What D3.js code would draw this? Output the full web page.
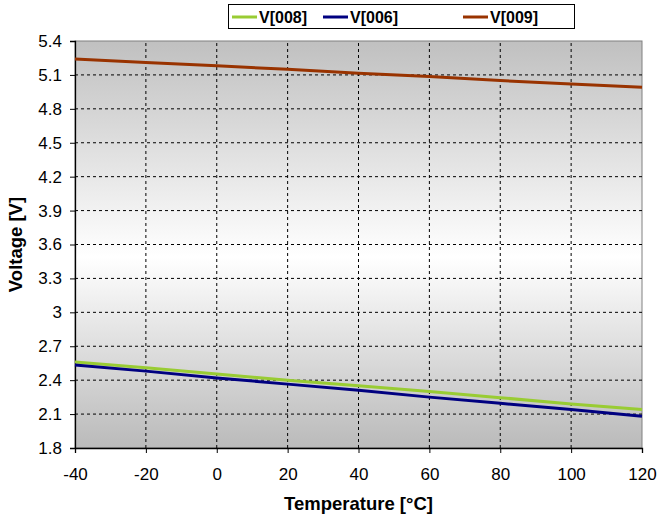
<!DOCTYPE html>
<html><head><meta charset="utf-8">
<script src="https://cdn.jsdelivr.net/npm/d3@7"></script>
<style>body{margin:0;background:#fff;} text{font-family:"Liberation Sans",Arial,sans-serif;}</style>
</head><body><svg id="c" width="658" height="517"></svg>
<script>
const temps = [-40, -20, 0, 20, 40, 60, 80, 100, 120];
const v008 = [2.56, 2.51, 2.455, 2.40, 2.35, 2.30, 2.245, 2.19, 2.14];
const v006 = [2.535, 2.48, 2.42, 2.365, 2.31, 2.25, 2.195, 2.14, 2.08];
const v009 = [5.24, 5.21, 5.18, 5.15, 5.115, 5.085, 5.05, 5.02, 4.99];
const seriesNames = ["V[008]", "V[006]", "V[009]"];
const seriesColors = ["#99cc33", "#000080", "#993300"];
const xTicks = [-40, -20, 0, 20, 40, 60, 80, 100, 120];
const yTicks = [1.8, 2.1, 2.4, 2.7, 3, 3.3, 3.6, 3.9, 4.2, 4.5, 4.8, 5.1, 5.4];

const svg = d3.select("#c");
const m = {l: 75, r: 16, t: 41, b: 69};
const W = 658, H = 517;
const x = d3.scaleLinear().domain([-40, 120]).range([m.l, W - m.r]);
const y = d3.scaleLinear().domain([1.8, 5.4]).range([H - m.b, m.t]);

const defs = svg.append("defs");
const g = defs.append("linearGradient").attr("id", "bg").attr("x1", 0).attr("y1", 0).attr("x2", 0).attr("y2", 1);
g.append("stop").attr("offset", "0%").attr("stop-color", "#c0c0c0");
g.append("stop").attr("offset", "53%").attr("stop-color", "#ffffff");
g.append("stop").attr("offset", "100%").attr("stop-color", "#bababa");

svg.append("rect").attr("x", x(-40)).attr("y", y(5.4)).attr("width", x(120) - x(-40)).attr("height", y(1.8) - y(5.4))
  .attr("fill", "url(#bg)").attr("stroke", "#808080").attr("stroke-width", 1);

// grid
svg.append("g").selectAll("line").data(yTicks.filter(d => d > 1.8 && d < 5.4)).join("line")
  .attr("x1", x(-40)).attr("x2", x(120)).attr("y1", d => y(d)).attr("y2", d => y(d))
  .attr("stroke", "#000").attr("stroke-dasharray", "3,3").attr("stroke-width", 1);
svg.append("g").selectAll("line").data(xTicks.filter(d => d > -40 && d < 120)).join("line")
  .attr("y1", y(1.8)).attr("y2", y(5.4)).attr("x1", d => x(d)).attr("x2", d => x(d))
  .attr("stroke", "#000").attr("stroke-dasharray", "3,3").attr("stroke-width", 1);

// axes
const xAxis = svg.append("g").attr("transform", `translate(0,${y(1.8)})`)
  .call(d3.axisBottom(x).tickValues(xTicks).tickSize(5).tickPadding(15).tickFormat(d => String(d)));
const yAxis = svg.append("g").attr("transform", `translate(${x(-40)},0)`)
  .call(d3.axisLeft(y).tickValues(yTicks).tickSize(5).tickPadding(8).tickFormat(d => String(+d.toFixed(1))));
[xAxis, yAxis].forEach(a => {
  a.select(".domain").attr("stroke", "#000").attr("stroke-width", 1.3);
  a.selectAll(".tick line").attr("stroke", "#000");
  a.selectAll("text").attr("font-size", 17).attr("fill", "#000").attr("font-family", "Liberation Sans, Arial, sans-serif");
});

// lines
const data = [v008, v006, v009];
const line = d3.line().x((d, i) => x(temps[i])).y(d => y(d));
svg.append("g").selectAll("path").data(data).join("path")
  .attr("d", line).attr("fill", "none")
  .attr("stroke", (d, i) => seriesColors[i]).attr("stroke-width", 3);

// titles
svg.append("text").attr("x", (x(-40) + x(120)) / 2).attr("y", 510).attr("text-anchor", "middle")
  .attr("font-size", 18.5).attr("font-weight", "bold").text("Temperature [°C]");
svg.append("text").attr("transform", `translate(22,${(y(1.8) + y(5.4)) / 2}) rotate(-90)`).attr("text-anchor", "middle")
  .attr("font-size", 18.5).attr("font-weight", "bold").text("Voltage [V]");

// legend
const lg = svg.append("g");
lg.append("rect").attr("x", 228.5).attr("y", 4.5).attr("width", 346).attr("height", 24)
  .attr("fill", "#fff").attr("stroke", "#000").attr("stroke-width", 1);
const lx = [232, 323, 463];
seriesNames.forEach((n, i) => {
  lg.append("line").attr("x1", lx[i]).attr("x2", lx[i] + 25).attr("y1", 17).attr("y2", 17)
    .attr("stroke", seriesColors[i]).attr("stroke-width", 3);
  lg.append("text").attr("x", lx[i] + 27).attr("y", 23).attr("font-size", 16).attr("font-weight", "bold").text(n);
});
</script></body></html>
